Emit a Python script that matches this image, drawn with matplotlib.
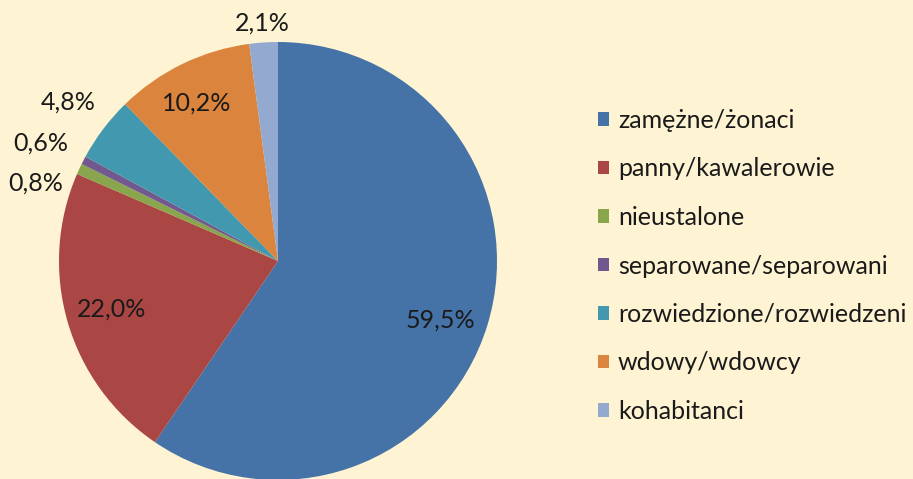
import numpy as np
import matplotlib.pyplot as plt
from matplotlib.patches import Patch

# data
categories = ['zamężne/żonaci', 'panny/kawalerowie', 'nieustalone',
              'separowane/separowani', 'rozwiedzione/rozwiedzeni',
              'wdowy/wdowcy', 'kohabitanci']
shares = [59.5, 22.0, 0.8, 0.6, 4.8, 10.2, 2.1]
colors = ['#4572A7', '#AA4643', '#89A54E', '#71588F', '#4198AF', '#DB843D', '#93A9CF']

# label placement (radius factor, angle nudge in degrees)
label_dist = [0.79, 0.79, 1.16, 1.21, 1.20, 0.81, 1.09]
label_nudge = [-3, 0, 7, 1, 0, 1.5, 0]

bg = '#FEF3D2'
plt.rcParams['font.family'] = ['Lato', 'DejaVu Sans']

W, H = 913, 479
fig = plt.figure(figsize=(W / 100, H / 100), dpi=100, facecolor=bg)
ax = fig.add_axes([0, 0, 1, 1])
ax.set_facecolor(bg)

# pie centre / radius in pixel units (y measured from bottom)
cx, cy, r = 278, H - 261, 219
wedges, _ = ax.pie(shares, colors=colors, startangle=90, counterclock=False,
                   center=(cx, cy), radius=r, frame=True,
                   wedgeprops=dict(linewidth=0))
ax.set_xlim(0, W)
ax.set_ylim(0, H)
ax.set_aspect('equal')
ax.axis('off')

for w, val, d, nd in zip(wedges, shares, label_dist, label_nudge):
    ang = np.deg2rad((w.theta1 + w.theta2) / 2 + nd)
    x = cx + d * r * np.cos(ang)
    y = cy + d * r * np.sin(ang)
    ax.text(x, y, f'{val:.1f}%'.replace('.', ','), ha='center', va='center',
            fontsize=18, color='#1a1a1a')

handles = [Patch(facecolor=c, edgecolor='none') for c in colors]
fig.legend(handles, categories, loc='upper left',
           bbox_to_anchor=(598 / W, 1 - 109 / H), frameon=False,
           fontsize=18, handlelength=0.45, handleheight=0.45,
           handletextpad=0.35, labelspacing=1.02, labelcolor='#1a1a1a',
           borderpad=0, borderaxespad=0)

fig.savefig('out.png', dpi=100, facecolor=bg)
